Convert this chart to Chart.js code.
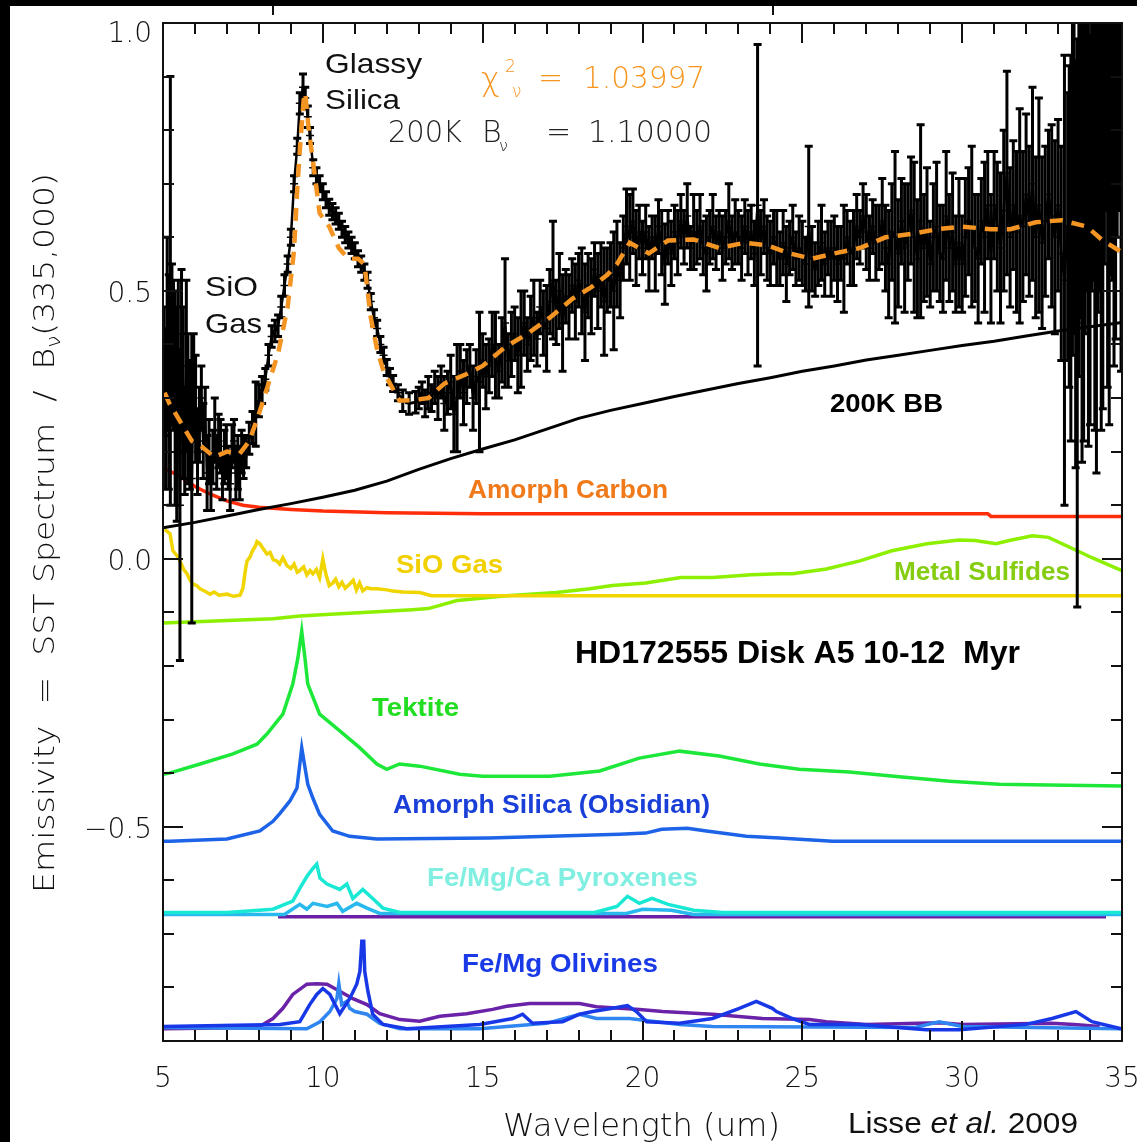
<!DOCTYPE html>
<html>
<head>
<meta charset="utf-8">
<title>HD172555 emissivity spectrum</title>
<script src="https://cdn.jsdelivr.net/npm/chart.js@4.4.1/dist/chart.umd.min.js"></script>
<style>
  html, body { margin: 0; padding: 0; background: #fff; }
  #wrap { position: relative; width: 1137px; height: 1142px; overflow: hidden; }
</style>
</head>
<body>
<div id="wrap"><canvas id="c" width="1137" height="1142"></canvas></div>
<script>
/* global Chart */

// axis ticks
var xTickValues = [5, 10, 15, 20, 25, 30, 35]
var xTickLabels = ['5', '10', '15', '20', '25', '30', '35']
var yTickValues = [1.0, 0.5, 0.0, -0.5]
var yTickLabels = ['1.0', '0.5', '0.0', '\u22120.5']

// SST spectrum (black, with error bars)
var specWave = [
  5.03, 5.08, 5.13, 5.18, 5.23, 5.28, 5.33, 5.38, 5.43, 5.48, 5.53, 5.58, 5.63, 5.68, 5.73, 5.78, 5.84, 5.9, 5.96, 6.02,
  6.08, 6.14, 6.2, 6.26, 6.32, 6.38, 6.44, 6.5, 6.56, 6.62, 6.68, 6.74, 6.8, 6.86, 6.92, 6.98, 7.04, 7.1, 7.16, 7.22,
  7.28, 7.34, 7.4, 7.46, 7.52,
  7.60, 7.70, 7.80, 7.90, 8.00, 8.10, 8.20, 8.30, 8.40, 8.50, 8.60, 8.70, 8.80, 8.90, 9.00, 9.10, 9.20,
  9.28, 9.38, 9.45, 9.53, 9.60,
  9.70, 9.80, 9.90, 10.00, 10.10, 10.20, 10.30, 10.40, 10.50, 10.60, 10.70, 10.80, 10.90, 11.00, 11.10, 11.20, 11.30, 11.40, 11.50, 11.60, 11.70, 11.80, 11.90, 12.00, 12.10, 12.20,
  12.35, 12.50, 12.70, 12.90,
  13.0, 13.1, 13.2, 13.3, 13.4, 13.5, 13.6, 13.7, 13.8, 13.9,
  14.0, 14.1, 14.2, 14.3, 14.4, 14.5, 14.6, 14.7, 14.8, 14.9,
  15.0, 15.1, 15.2, 15.3, 15.4, 15.5, 15.6, 15.7, 15.8, 15.9,
  16.0, 16.1, 16.2, 16.3, 16.4, 16.5, 16.6, 16.7, 16.8, 16.9,
  17.0, 17.1, 17.2, 17.3, 17.4, 17.5, 17.6, 17.7, 17.8, 17.9,
  18.0, 18.1, 18.2, 18.3, 18.4, 18.5, 18.6, 18.7, 18.8, 18.9,
  19.0, 19.1, 19.2, 19.3, 19.4, 19.5, 19.6, 19.7, 19.8, 19.9,
  20.0, 20.1, 20.2, 20.3, 20.4, 20.5, 20.6, 20.7, 20.8, 20.9,
  21.0, 21.1, 21.2, 21.3, 21.4, 21.5, 21.6, 21.7, 21.8, 21.9,
  22.0, 22.1, 22.2, 22.3, 22.4, 22.5, 22.6, 22.7, 22.8, 22.9,
  23.0, 23.1, 23.2, 23.3, 23.4, 23.5, 23.6, 23.7, 23.8, 23.9,
  24.0, 24.1, 24.2, 24.3, 24.4, 24.5, 24.6, 24.7, 24.8, 24.9,
  25.0, 25.1, 25.2, 25.3, 25.4, 25.5, 25.6, 25.7, 25.8, 25.9,
  26.0, 26.1, 26.2, 26.3, 26.4, 26.5, 26.6, 26.7, 26.8, 26.9,
  27.0, 27.1, 27.2, 27.3, 27.4, 27.5, 27.6, 27.7, 27.8, 27.9,
  28.0, 28.1, 28.2, 28.3, 28.4, 28.5, 28.6, 28.7, 28.8, 28.9,
  29.0, 29.1, 29.2, 29.3, 29.4, 29.5, 29.6, 29.7, 29.8, 29.9,
  30.0, 30.1, 30.2, 30.3, 30.4, 30.5, 30.6, 30.7, 30.8, 30.9,
  31.0, 31.1, 31.2, 31.3, 31.4, 31.5, 31.6, 31.7, 31.8, 31.9,
  32.0, 32.1, 32.2, 32.3, 32.4, 32.5, 32.6, 32.7, 32.8, 32.9,
  33.0, 33.1, 33.2, 33.3,
  33.35, 33.4, 33.45, 33.5, 33.55, 33.6, 33.65, 33.7, 33.75, 33.8, 33.85, 33.9, 33.95, 34.0, 34.05, 34.1, 34.15,
  34.2, 34.25, 34.3, 34.35, 34.4, 34.45, 34.5, 34.55, 34.6, 34.65, 34.7, 34.75, 34.8, 34.85, 34.9, 34.97
]
var specFlux = [
  0.35, 0.28, 0.42, 0.33, 0.50, 0.40, 0.38, 0.30, 0.27, 0.36, 0.10, 0.42, 0.31, 0.22, 0.36, 0.28, 0.25, 0.15, 0.32, 0.28,
  0.20, 0.25, 0.30, 0.22, 0.26, 0.16, 0.20, 0.14, 0.19, 0.24, 0.18, 0.22, 0.21, 0.15, 0.19, 0.20, 0.17, 0.14, 0.21, 0.22,
  0.16, 0.18, 0.16, 0.20, 0.19,
  0.20, 0.225, 0.245, 0.27, 0.295, 0.315, 0.335, 0.38, 0.415, 0.425, 0.435, 0.47, 0.51, 0.55, 0.60, 0.70, 0.77,
  0.85, 0.88, 0.86, 0.825, 0.79,
  0.73, 0.715, 0.70, 0.685, 0.67, 0.656, 0.648, 0.64, 0.63, 0.615, 0.605, 0.595, 0.585, 0.575, 0.56, 0.55, 0.535, 0.52, 0.48, 0.45, 0.43, 0.40, 0.38, 0.357, 0.34, 0.327,
  0.31, 0.295, 0.29, 0.292,
  0.30, 0.31, 0.29, 0.31, 0.30, 0.32, 0.30, 0.33, 0.29, 0.31,
  0.33, 0.27, 0.30, 0.35, 0.31, 0.34, 0.36, 0.30, 0.34, 0.33,
  0.37, 0.34, 0.36, 0.40, 0.38, 0.35, 0.39, 0.44, 0.37, 0.40,
  0.42, 0.38, 0.41, 0.44, 0.40, 0.43, 0.45, 0.41, 0.47, 0.44,
  0.43, 0.48, 0.52, 0.46, 0.50, 0.44, 0.49, 0.47, 0.51, 0.48,
  0.52, 0.50, 0.46, 0.51, 0.49, 0.54, 0.50, 0.53, 0.48, 0.52,
  0.53, 0.50, 0.55, 0.52, 0.58, 0.62, 0.60, 0.63, 0.58, 0.61,
  0.58, 0.61, 0.56, 0.60, 0.57, 0.62, 0.59, 0.55, 0.60, 0.57,
  0.61, 0.59, 0.63, 0.60, 0.64, 0.58, 0.61, 0.60, 0.62, 0.58,
  0.57, 0.60, 0.62, 0.59, 0.61, 0.58, 0.60, 0.63, 0.59, 0.61,
  0.60, 0.58, 0.62, 0.59, 0.61, 0.57, 0.66, 0.59, 0.62, 0.58,
  0.57, 0.60, 0.58, 0.56, 0.59, 0.55, 0.58, 0.60, 0.56, 0.58,
  0.57, 0.55, 0.62, 0.56, 0.54, 0.57, 0.59, 0.55, 0.58, 0.56,
  0.58, 0.55, 0.57, 0.56, 0.60, 0.57, 0.58, 0.62, 0.60, 0.64,
  0.61, 0.58, 0.62, 0.59, 0.60, 0.63, 0.58, 0.55, 0.61, 0.60,
  0.57, 0.63, 0.58, 0.61, 0.65, 0.60, 0.56, 0.63, 0.58, 0.61,
  0.55, 0.60, 0.62, 0.57, 0.56, 0.64, 0.58, 0.61, 0.55, 0.59,
  0.55, 0.60, 0.63, 0.62, 0.58, 0.56, 0.63, 0.60, 0.66, 0.56,
  0.66, 0.62, 0.58, 0.65, 0.72, 0.60, 0.66, 0.61, 0.64, 0.62,
  0.68, 0.63, 0.70, 0.60, 0.66, 0.59, 0.63, 0.68, 0.64, 0.60,
  0.66, 0.57, 0.52, 0.62,
  0.62, 0.58, 0.70, 0.72, 0.55, 0.44, 0.68, 0.75, 0.60, 0.62, 0.80, 0.85, 0.66, 0.70, 0.90, 0.92, 0.72,
  0.66, 0.88, 0.95, 0.74, 0.78, 1.0, 1.05, 0.82, 0.80, 0.98, 1.02, 0.84, 0.86, 1.05, 1.10, 0.75
]
var specErr = [
  0.12, 0.15, 0.18, 0.20, 0.40, 0.15, 0.14, 0.20, 0.20, 0.16, 0.29, 0.12, 0.16, 0.10, 0.16, 0.14, 0.12, 0.27, 0.10, 0.10,
  0.08, 0.07, 0.06, 0.07, 0.06, 0.07, 0.06, 0.05, 0.05, 0.06, 0.05, 0.05, 0.05, 0.04, 0.05, 0.05, 0.04, 0.05, 0.04, 0.04,
  0.05, 0.05, 0.05, 0.04, 0.04,
  0.03, 0.03, 0.03, 0.06, 0.03, 0.025, 0.02, 0.02, 0.02, 0.02, 0.02, 0.02, 0.02, 0.015, 0.015, 0.015, 0.015,
  0.02, 0.025, 0.02, 0.02, 0.015,
  0.015, 0.015, 0.015, 0.015, 0.015, 0.015, 0.015, 0.015, 0.015, 0.015, 0.015, 0.015, 0.015, 0.015, 0.015, 0.015, 0.015, 0.015, 0.015, 0.015, 0.015, 0.015, 0.015, 0.015, 0.015, 0.015,
  0.015, 0.02, 0.02, 0.02,
  0.02, 0.02, 0.025, 0.03, 0.025, 0.03, 0.04, 0.03, 0.05, 0.04,
  0.05, 0.07, 0.10, 0.05, 0.06, 0.05, 0.04, 0.06, 0.05, 0.13,
  0.05, 0.06, 0.05, 0.06, 0.08, 0.05, 0.06, 0.12, 0.05, 0.06,
  0.05, 0.07, 0.09, 0.06, 0.05, 0.06, 0.07, 0.05, 0.05, 0.06,
  0.08, 0.06, 0.11, 0.06, 0.07, 0.09, 0.05, 0.06, 0.05, 0.07,
  0.05, 0.08, 0.09, 0.06, 0.07, 0.05, 0.07, 0.06, 0.10, 0.06,
  0.06, 0.11, 0.08, 0.07, 0.06, 0.07, 0.08, 0.06, 0.07, 0.05,
  0.05, 0.05, 0.06, 0.04, 0.07, 0.05, 0.06, 0.075, 0.05, 0.06,
  0.05, 0.06, 0.05, 0.05, 0.06, 0.04, 0.07, 0.05, 0.06, 0.05,
  0.07, 0.05, 0.06, 0.05, 0.04, 0.06, 0.05, 0.07, 0.05, 0.06,
  0.05, 0.06, 0.05, 0.06, 0.05, 0.06, 0.30, 0.06, 0.05, 0.06,
  0.06, 0.05, 0.07, 0.05, 0.06, 0.07, 0.05, 0.06, 0.05, 0.06,
  0.06, 0.05, 0.15, 0.06, 0.05, 0.06, 0.07, 0.06, 0.05, 0.07,
  0.06, 0.07, 0.05, 0.10, 0.05, 0.06, 0.07, 0.06, 0.05, 0.06,
  0.07, 0.06, 0.05, 0.07, 0.06, 0.08, 0.08, 0.10, 0.09, 0.16,
  0.10, 0.08, 0.12, 0.09, 0.10, 0.14, 0.11, 0.18, 0.10, 0.12,
  0.08, 0.10, 0.12, 0.09, 0.10, 0.12, 0.10, 0.11, 0.09, 0.12,
  0.09, 0.11, 0.10, 0.15, 0.10, 0.12, 0.08, 0.14, 0.10, 0.12,
  0.10, 0.12, 0.14, 0.15, 0.19, 0.13, 0.12, 0.15, 0.20, 0.14,
  0.15, 0.14, 0.18, 0.15, 0.20, 0.16, 0.14, 0.12, 0.17, 0.18,
  0.16, 0.20, 0.42, 0.25,
  0.30, 0.36, 0.32, 0.30, 0.38, 0.53, 0.34, 0.30, 0.42, 0.40, 0.38, 0.35, 0.45, 0.45, 0.40, 0.40, 0.48,
  0.50, 0.42, 0.45, 0.50, 0.50, 0.45, 0.40, 0.50, 0.55, 0.45, 0.50, 0.48, 0.45, 0.45, 0.45, 0.40
]

// best-fit model (orange dashed)
var fitWave = [5.05, 5.2, 5.6, 5.9, 6.2, 6.6, 7.0, 7.4, 7.7, 8.0, 8.3, 8.6, 8.9, 9.1, 9.2, 9.3, 9.4, 9.45, 9.55, 9.7,
  9.9, 10.2, 10.5, 10.8, 11.1, 11.3, 11.5, 11.7, 11.9, 12.1, 12.4, 12.8, 13.3, 13.8, 14.5, 15.0, 15.7, 16.4, 17.1, 17.8,
  18.4, 18.9, 19.2, 19.6, 20.2, 20.8, 21.6, 22.4, 23.2, 23.9, 24.6, 25.3, 26.0, 26.8, 27.6, 28.5, 29.2, 30.0, 30.9, 31.5,
  32.3, 33.1, 33.9, 34.4, 35.0]
var fitFlux = [0.31, 0.29, 0.25, 0.22, 0.21, 0.19, 0.20, 0.196, 0.22, 0.27, 0.327, 0.383, 0.47, 0.576, 0.69, 0.78, 0.856, 0.87, 0.806, 0.738,
  0.645, 0.62, 0.58, 0.56, 0.56, 0.55, 0.45, 0.39, 0.35, 0.327, 0.295, 0.296, 0.30, 0.327, 0.345, 0.36, 0.395, 0.42, 0.45, 0.485,
  0.507, 0.53, 0.55, 0.59, 0.57, 0.594, 0.596, 0.58, 0.59, 0.585, 0.57, 0.56, 0.57, 0.58, 0.60, 0.607, 0.615, 0.62, 0.615, 0.615,
  0.628, 0.632, 0.62, 0.594, 0.572]

// 200K blackbody
var bbWave = [5, 6, 7, 8, 9, 10, 11, 12, 13, 14, 15, 16, 17, 18, 19, 20, 21, 22, 23, 24, 25, 26, 27, 28, 29, 30, 31, 32, 33, 34, 35]
var bbFlux = [0.058, 0.068, 0.08, 0.092, 0.103, 0.115, 0.128, 0.145, 0.167, 0.187, 0.205, 0.222, 0.242, 0.262, 0.277, 0.29,
  0.303, 0.315, 0.327, 0.338, 0.35, 0.36, 0.371, 0.38, 0.389, 0.398, 0.406, 0.416, 0.425, 0.433, 0.441]

// amorphous carbon
var carbonWave = [5.0, 5.5, 6.0, 6.5, 7.0, 7.5, 8.0, 9.0, 10.0, 12.0, 15.0, 30.8, 30.9, 35.0]
var carbonFlux = [0.17, 0.155, 0.135, 0.12, 0.108, 0.10, 0.096, 0.092, 0.089, 0.086, 0.084, 0.084, 0.079, 0.079]

// SiO gas
var sioWave = [5.05, 5.22, 5.31, 5.45, 5.53, 5.65, 5.75, 5.85, 5.94, 6.05, 6.16, 6.3, 6.47, 6.6, 6.75, 7.0, 7.2, 7.41, 7.5, 7.58,
  7.63, 7.72, 7.8, 7.9, 7.94, 8.03, 8.12, 8.25, 8.35, 8.45, 8.56, 8.65, 8.75, 8.88, 9.0, 9.1, 9.2, 9.28, 9.4, 9.5,
  9.6, 9.69, 9.8, 9.9, 10.0, 10.1, 10.2, 10.31, 10.4, 10.5, 10.6, 10.7, 10.84, 10.95, 11.05, 11.15, 11.25, 11.38, 11.5, 11.69,
  12.0, 12.19, 12.5, 13.03, 13.4, 35.0]
var sioFlux = [0.055, 0.047, 0.015, 0.005, -0.004, -0.02, -0.028, -0.04, -0.047, -0.05, -0.056, -0.06, -0.066, -0.062, -0.068, -0.066, -0.07, -0.068, -0.055, -0.02,
  -0.004, 0.003, 0.015, 0.025, 0.032, 0.028, 0.02, 0.009, 0.012, -0.002, -0.004, -0.01, 0.002, -0.013, -0.018, -0.01, -0.025, -0.022, -0.015, -0.03,
  -0.022, -0.028, -0.02, -0.035, 0.0, -0.03, -0.05, -0.045, -0.038, -0.052, -0.044, -0.055, -0.047, -0.04, -0.058, -0.045, -0.06, -0.054, -0.056, -0.056,
  -0.058, -0.06, -0.062, -0.063, -0.069, -0.069]

// metal sulfides
var sulfWave = [5.0, 8.44, 9.28, 10.1, 11.4, 12.8, 13.3, 14.2, 15.75, 17.3, 18.35, 19.06, 20.1, 21.2, 22.2, 23.4, 24.3, 24.7, 25.75, 26.8,
  27.8, 28.9, 29.9, 30.4, 31.06, 31.47, 32.2, 32.7, 33.6, 34.06, 35.0]
var sulfFlux = [-0.12, -0.112, -0.107, -0.104, -0.10, -0.095, -0.093, -0.078, -0.069, -0.063, -0.056, -0.05, -0.045, -0.035, -0.035, -0.03, -0.028, -0.028, -0.019, -0.004,
  0.015, 0.028, 0.035, 0.034, 0.028, 0.034, 0.043, 0.04, 0.015, 0.002, -0.022]

// tektite
var tektWave = [5.0, 5.2, 6.16, 7.19, 7.94, 8.25, 8.75, 9.06, 9.22, 9.34, 9.44, 9.53, 9.9, 10.53, 11.16, 11.69, 12.0, 12.4, 13.03, 14.28,
  15.0, 17.1, 18.66, 19.9, 21.16, 22.4, 23.66, 24.9, 26.47, 28.03, 29.6, 31.16, 32.7, 35.0]
var tektFlux = [-0.402, -0.40, -0.383, -0.364, -0.346, -0.327, -0.29, -0.234, -0.185, -0.135, -0.185, -0.234, -0.29, -0.321, -0.353, -0.383, -0.393, -0.383, -0.387, -0.402,
  -0.406, -0.406, -0.396, -0.372, -0.359, -0.368, -0.383, -0.393, -0.398, -0.407, -0.415, -0.421, -0.422, -0.424]

// amorphous silica (obsidian)
var obsWave = [5.0, 5.22, 7.0, 8.03, 8.44, 8.66, 8.97, 9.19, 9.34, 9.53, 9.69, 9.9, 10.31, 10.84, 11.69, 15.2, 19.28, 20.1, 20.6, 21.4,
  22.0, 23.25, 24.28, 25.94, 35.0]
var obsFlux = [-0.527, -0.527, -0.523, -0.508, -0.49, -0.475, -0.452, -0.428, -0.353, -0.421, -0.447, -0.477, -0.508, -0.518, -0.523, -0.521, -0.514, -0.512, -0.505, -0.503,
  -0.508, -0.518, -0.521, -0.527, -0.527]

// pyroxenes
var pyrTurqWave = [5.0, 7.0, 8.0, 8.44, 9.06, 9.28, 9.5, 9.69, 9.81, 9.91, 10.13, 10.53, 10.75, 10.94, 11.25, 11.56, 11.88, 12.41, 18.5, 19.2,
  19.53, 19.9, 20.3, 20.8, 21.6, 22.5, 35.0]
var pyrTurqFlux = [-0.660, -0.660, -0.656, -0.654, -0.639, -0.615, -0.593, -0.578, -0.570, -0.596, -0.607, -0.617, -0.607, -0.634, -0.617, -0.634, -0.652, -0.660, -0.660, -0.649,
  -0.630, -0.643, -0.634, -0.645, -0.656, -0.660, -0.660]
var pyrBlueWave = [5.0, 8.8, 9.28, 9.5, 9.69, 10.13, 10.44, 10.62, 11.06, 11.38, 11.78, 19.5, 20.0, 20.9, 21.6, 35.0]
var pyrBlueFlux = [-0.664, -0.664, -0.645, -0.654, -0.643, -0.649, -0.643, -0.658, -0.643, -0.652, -0.662, -0.662, -0.654, -0.656, -0.664, -0.664]
var pyrPurpleWave = [8.6, 34.5]
var pyrPurpleFlux = [-0.668, -0.668]

// olivines
var olivPurpleWave = [5.0, 8.0, 8.13, 8.44, 8.75, 9.06, 9.5, 9.81, 10.13, 10.53, 10.94, 11.38, 11.78, 12.41, 13.03, 13.66, 14.5, 15.31, 15.75, 16.47,
  18.03, 18.56, 19.91, 20.63, 22.19, 23.75, 25.22, 25.75, 27.0, 29.3, 30.0, 32.8, 33.5, 34.3]
var olivPurpleFlux = [-0.877, -0.875, -0.869, -0.858, -0.839, -0.813, -0.794, -0.793, -0.794, -0.807, -0.821, -0.832, -0.849, -0.86, -0.863, -0.854, -0.849, -0.841, -0.835, -0.83,
  -0.83, -0.836, -0.841, -0.845, -0.85, -0.858, -0.86, -0.864, -0.869, -0.866, -0.869, -0.867, -0.869, -0.873]
var olivBlueWave = [5.0, 8.66, 9.28, 9.59, 9.81, 10.0, 10.22, 10.53, 10.84, 11.06, 11.16, 11.22, 11.28, 11.31, 11.41, 11.56, 11.88, 12.63, 14.91, 15.94,
  16.25, 16.56, 17.5, 18.03, 18.44, 19.06, 19.53, 19.81, 20.13, 21.16, 22.19, 23.03, 23.56, 24.06, 24.19, 24.69, 25.22, 26.78, 28.88, 29.91,
  32.0, 32.81, 33.56, 34.06, 34.97]
var olivBlueFlux = [-0.873, -0.869, -0.864, -0.832, -0.813, -0.802, -0.813, -0.849, -0.821, -0.794, -0.77, -0.714, -0.714, -0.77, -0.807, -0.85, -0.869, -0.877, -0.869, -0.858,
  -0.85, -0.867, -0.864, -0.85, -0.845, -0.839, -0.834, -0.845, -0.864, -0.867, -0.858, -0.839, -0.826, -0.839, -0.845, -0.858, -0.869, -0.869, -0.879, -0.879,
  -0.869, -0.858, -0.845, -0.864, -0.877]
var olivLightWave = [5.0, 9.5, 9.91, 10.22, 10.44, 10.5, 10.59, 10.75, 10.84, 11.0, 11.38, 11.78, 12.41, 14.91, 17.0, 18.03, 18.56, 19.59, 21.16, 22.19,
  28.5, 29.28, 30.0, 34.97]
var olivLightFlux = [-0.875, -0.877, -0.864, -0.845, -0.821, -0.793, -0.832, -0.826, -0.839, -0.845, -0.85, -0.867, -0.877, -0.877, -0.867, -0.85, -0.858, -0.858, -0.869, -0.873,
  -0.875, -0.864, -0.873, -0.877]

var THIN = '"DejaVu Sans"'
var ARIAL = '"Liberation Sans", Arial, sans-serif'

function pts (xs, ys) {
  return xs.map((x, i) => ({ x: x, y: ys[i] }))
}

function curve (xs, ys, color, width, order) {
  return {
    data: pts(xs, ys),
    showLine: true,
    borderColor: color,
    borderWidth: width,
    pointRadius: 0,
    tension: 0,
    clip: 0,
    order: order
  }
}

// text scaled to a given width
function fitText (ctx, text, x, y, width, font, color) {
  ctx.font = font
  var w = ctx.measureText(text).width
  ctx.save()
  ctx.translate(x, y)
  ctx.scale(width / w, 1)
  ctx.fillStyle = color
  ctx.fillText(text, 0, 0)
  ctx.restore()
}

// vertical error bars on the spectrum, drawn just before its line
var errorBars = {
  id: 'errorBars',
  beforeDatasetDraw (chart, args) {
    if (args.index !== 0) return
    var ctx = chart.ctx
    var a = chart.chartArea
    var xs = chart.scales.x
    var ys = chart.scales.y
    ctx.save()
    ctx.beginPath()
    ctx.rect(a.left, a.top, a.right - a.left, a.bottom - a.top)
    ctx.clip()
    ctx.strokeStyle = '#000'
    ctx.lineWidth = 3
    ctx.beginPath()
    for (var i = 0; i < specWave.length; i++) {
      var px = xs.getPixelForValue(specWave[i])
      var top = ys.getPixelForValue(specFlux[i] + specErr[i])
      var bot = ys.getPixelForValue(specFlux[i] - specErr[i])
      ctx.moveTo(px, top)
      ctx.lineTo(px, bot)
      ctx.moveTo(px - 4, top)
      ctx.lineTo(px + 4, top)
      ctx.moveTo(px - 4, bot)
      ctx.lineTo(px + 4, bot)
    }
    ctx.stroke()
    ctx.restore()
  }
}

// IDL-style frame, inward ticks, tick labels, titles and annotations
var frame = {
  id: 'frame',
  afterDraw (chart) {
    var ctx = chart.ctx
    var a = chart.chartArea
    var xs = chart.scales.x
    var ys = chart.scales.y
    ctx.save()

    // black edges of the cropped figure
    ctx.fillStyle = '#000'
    ctx.fillRect(0, 0, 10, chart.height)
    ctx.fillRect(0, 0, chart.width, 6)
    ctx.strokeStyle = '#111'
    ctx.lineWidth = 2
    ctx.beginPath()
    ctx.moveTo(273, 6); ctx.lineTo(273, 15)
    ctx.moveTo(773, 6); ctx.lineTo(773, 15)
    ctx.stroke()

    ctx.strokeRect(a.left, a.top, a.right - a.left, a.bottom - a.top)
    ctx.beginPath()
    for (var v = 5; v <= 35; v++) {
      var px = Math.round(xs.getPixelForValue(v))
      var len = v % 5 === 0 ? 20 : 11
      ctx.moveTo(px, a.bottom); ctx.lineTo(px, a.bottom - len)
      ctx.moveTo(px, a.top); ctx.lineTo(px, a.top + len)
    }
    for (var k = -9; k <= 10; k++) {
      var py = Math.round(ys.getPixelForValue(k / 10))
      var ylen = k % 5 === 0 ? 20 : 11
      ctx.moveTo(a.left, py); ctx.lineTo(a.left + ylen, py)
      ctx.moveTo(a.right, py); ctx.lineTo(a.right - ylen, py)
    }
    ctx.stroke()

    // tick labels
    ctx.fillStyle = '#111'
    ctx.font = '200 28px ' + THIN
    ctx.textBaseline = 'middle'
    ctx.textAlign = 'center'
    xTickValues.forEach((v, i) => {
      ctx.fillText(xTickLabels[i], xs.getPixelForValue(v), a.bottom + 39)
    })
    ctx.textAlign = 'right'
    yTickValues.forEach((v, i) => {
      ctx.fillText(yTickLabels[i], a.left - 11, Math.max(ys.getPixelForValue(v) + 4, 35))
    })

    // axis titles
    ctx.textAlign = 'left'
    ctx.textBaseline = 'alphabetic'
    fitText(ctx, 'Wavelength (um)', 503, 1136, 277, '200 32px ' + THIN, '#111')

    var big = '200 29px ' + THIN
    var small = '200 19px ' + THIN
    var parts = [['Emissivity  =  SST Spectrum  /  B', big, 0], ['\u03bd', small, 6], ['(335,000)', big, 0]]
    var total = 0
    parts.forEach(p => { ctx.font = p[1]; total += ctx.measureText(p[0]).width })
    ctx.save()
    ctx.translate(54, 893)
    ctx.rotate(-Math.PI / 2)
    ctx.scale(720 / total, 1)
    ctx.fillStyle = '#111'
    var cx = 0
    parts.forEach(p => { ctx.font = p[1]; ctx.fillText(p[0], cx, p[2]); cx += ctx.measureText(p[0]).width })
    ctx.restore()

    // fit statistics
    var orange = '#f7941d'
    ctx.fillStyle = orange
    ctx.font = '200 32px ' + THIN
    ctx.fillText('\u03c7', 481, 90)
    ctx.font = '200 17px ' + THIN
    ctx.fillText('2', 505, 72)
    ctx.fillText('\u03bd', 512, 97)
    ctx.font = '200 30px ' + THIN
    ctx.fillText('=', 538, 88)
    fitText(ctx, '1.03997', 583, 88, 122, '200 30px ' + THIN, orange)

    fitText(ctx, '200K', 388, 142, 74, '200 30px ' + THIN, '#222')
    ctx.fillStyle = '#222'
    ctx.font = '200 30px ' + THIN
    ctx.fillText('B', 482, 142)
    ctx.font = '200 16px ' + THIN
    ctx.fillText('\u03bd', 499, 151)
    ctx.font = '200 30px ' + THIN
    ctx.fillText('=', 546, 142)
    fitText(ctx, '1.10000', 588, 142, 124, '200 30px ' + THIN, '#222')

    // feature and component labels
    var reg = '28px ' + ARIAL
    fitText(ctx, 'Glassy', 325, 73, 97, reg, '#111')
    fitText(ctx, 'Silica', 325, 109, 75, reg, '#111')
    fitText(ctx, 'SiO', 205, 296, 53, reg, '#111')
    fitText(ctx, 'Gas', 205, 333, 57, reg, '#111')

    var bold = 'bold 25px ' + ARIAL
    fitText(ctx, '200K BB', 830, 412, 113, bold, '#000')
    fitText(ctx, 'Amorph Carbon', 468, 498, 200, bold, '#f07a1a')
    fitText(ctx, 'SiO Gas', 396, 573, 107, bold, '#f2d000')
    fitText(ctx, 'Metal Sulfides', 894, 580, 176, bold, '#86cc10')
    fitText(ctx, 'HD172555 Disk A5 10-12  Myr', 575, 663, 445, 'bold 32px ' + ARIAL, '#000')
    fitText(ctx, 'Tektite', 372, 716, 87, bold, '#22dd22')
    fitText(ctx, 'Amorph Silica (Obsidian)', 393, 813, 317, bold, '#1a3ed8')
    fitText(ctx, 'Fe/Mg/Ca Pyroxenes', 427, 886, 271, bold, '#80eee0')
    fitText(ctx, 'Fe/Mg Olivines', 462, 972, 196, bold, '#1a3ae8')

    // citation
    var cite = [['Lisse ', '29px ' + ARIAL], ['et al.', 'italic 29px ' + ARIAL], [' 2009', '29px ' + ARIAL]]
    var cw = 0
    cite.forEach(p => { ctx.font = p[1]; cw += ctx.measureText(p[0]).width })
    ctx.save()
    ctx.translate(848, 1133)
    ctx.scale(230 / cw, 1)
    ctx.fillStyle = '#111'
    var ccx = 0
    cite.forEach(p => { ctx.font = p[1]; ctx.fillText(p[0], ccx, 0); ccx += ctx.measureText(p[0]).width })
    ctx.restore()

    ctx.restore()
  }
}

var spectrum = {
  data: pts(specWave, specFlux),
  showLine: true,
  borderColor: '#000',
  borderWidth: 2.5,
  pointStyle: 'cross',
  pointRadius: 4,
  pointBorderWidth: 1.5,
  pointBorderColor: '#000',
  tension: 0,
  clip: 0,
  order: 1
}

var fit = curve(fitWave, fitFlux, '#f39423', 4.5, 0)
fit.borderDash = [13, 9]

new Chart(document.getElementById('c').getContext('2d'), {
  type: 'scatter',
  data: {
    datasets: [
      spectrum,
      fit,
      curve(bbWave, bbFlux, '#000', 3, 2),
      curve(carbonWave, carbonFlux, '#ff2d0a', 3.5, 3),
      curve(sulfWave, sulfFlux, '#8cf000', 3.5, 4),
      curve(sioWave, sioFlux, '#f0d500', 3.5, 3),
      curve(tektWave, tektFlux, '#1de83a', 3.5, 3),
      curve(obsWave, obsFlux, '#1d63e8', 3.5, 3),
      curve(pyrPurpleWave, pyrPurpleFlux, '#6a1fa6', 3.5, 7),
      curve(pyrBlueWave, pyrBlueFlux, '#28b8ee', 3.5, 6),
      curve(pyrTurqWave, pyrTurqFlux, '#18e8d4', 3.5, 5),
      curve(olivPurpleWave, olivPurpleFlux, '#6a22a8', 3.5, 5),
      curve(olivLightWave, olivLightFlux, '#2f86f0', 3.5, 4),
      curve(olivBlueWave, olivBlueFlux, '#1838e8', 3.5, 3)
    ]
  },
  options: {
    responsive: false,
    devicePixelRatio: 1,
    animation: false,
    layout: { padding: { left: 163, top: 23, right: 15, bottom: 101 } },
    scales: {
      x: { type: 'linear', min: 5, max: 35, display: false },
      y: { type: 'linear', min: -0.9, max: 1.0, display: false }
    },
    plugins: { legend: { display: false }, tooltip: { enabled: false } }
  },
  plugins: [errorBars, frame]
})
</script>
</body>
</html>
